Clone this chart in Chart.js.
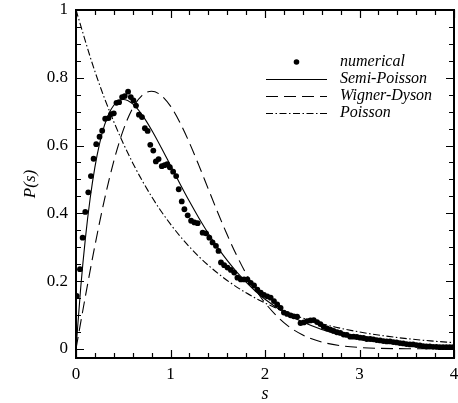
<!DOCTYPE html>
<html>
<head>
<meta charset="utf-8">
<script src="https://cdn.jsdelivr.net/npm/chart.js@4"></script>
<style>
  html, body { margin: 0; padding: 0; background: #fff; }
  #wrap { width: 458px; height: 403px; }
</style>
</head>
<body>
<div id="wrap"><canvas id="c" width="458" height="403"></canvas></div>
<script>
// ---- data ----
const numS = [0.007,0.042,0.070,0.098,0.130,0.158,0.186,0.214,0.249,0.277,0.309,0.344,0.372,0.400,0.428,0.456,0.488,0.516,0.551,0.580,0.608,0.635,0.666,0.698,0.729,0.758,0.786,0.818,0.845,0.874,0.908,0.937,0.965,0.993,1.028,1.060,1.087,1.119,1.147,1.182,1.218,1.253,1.287,1.340,1.376,1.411,1.445,1.481,1.508,1.534,1.568,1.603,1.639,1.674,1.708,1.744,1.779,1.814,1.849,1.884,1.919,1.955,1.989,2.024,2.060,2.095,2.129,2.165,2.200,2.235,2.271,2.305,2.340,2.376,2.410,2.445,2.481,2.516,2.551,2.586,2.621,2.656,2.692,2.726,2.761,2.797,2.832,2.866,2.902,2.937,2.972,3.007,3.042,3.077,3.113,3.147,3.182,3.218,3.253,3.288,3.323,3.358,3.393,3.428,3.463,3.498,3.534,3.568,3.603,3.639,3.674,3.708,3.744,3.779,3.814,3.849,3.884,3.919,3.955,3.990];
const numP = [0.156,0.235,0.328,0.404,0.462,0.510,0.561,0.604,0.626,0.644,0.679,0.681,0.693,0.695,0.726,0.728,0.743,0.746,0.759,0.743,0.733,0.718,0.691,0.684,0.651,0.643,0.602,0.585,0.553,0.560,0.539,0.542,0.545,0.536,0.523,0.510,0.471,0.435,0.412,0.394,0.378,0.373,0.371,0.343,0.341,0.328,0.314,0.304,0.289,0.255,0.247,0.240,0.233,0.225,0.210,0.205,0.205,0.205,0.195,0.187,0.175,0.166,0.159,0.155,0.151,0.141,0.131,0.121,0.107,0.103,0.099,0.096,0.095,0.076,0.078,0.082,0.084,0.085,0.079,0.073,0.065,0.060,0.057,0.053,0.049,0.047,0.042,0.041,0.036,0.036,0.035,0.033,0.032,0.029,0.029,0.028,0.026,0.025,0.023,0.022,0.022,0.020,0.019,0.017,0.016,0.014,0.013,0.013,0.011,0.010,0.008,0.007,0.007,0.006,0.006,0.005,0.005,0.005,0.005,0.005];

const semiS = [0,0.05,0.1,0.15,0.2,0.25,0.3,0.35,0.4,0.45,0.5,0.6,0.7,0.8,0.9,1.0,1.1,1.2,1.3,1.4,1.5,1.6,1.7,1.8,1.9,2.0,2.2,2.4,2.6,2.8,3.0,3.2,3.4,3.6,3.8,4.0];
const semiP = [0,0.181,0.3275,0.4445,0.5363,0.6065,0.6586,0.6952,0.7189,0.7318,0.7358,0.7229,0.6905,0.6460,0.5951,0.5413,0.4875,0.4354,0.3862,0.3405,0.2987,0.2609,0.2271,0.1968,0.1700,0.1465,0.1081,0.0790,0.0574,0.0414,0.0297,0.0213,0.0152,0.0108,0.0076,0.0054];

const wdS = [0,0.1,0.2,0.3,0.4,0.5,0.6,0.7,0.8,0.9,1.0,1.1,1.2,1.3,1.4,1.5,1.6,1.7,1.8,1.9,2.0,2.2,2.4,2.6,2.8,3.0,3.2,3.5,4.0];
const wdP = [0,0.1559,0.3044,0.4391,0.5541,0.6454,0.7104,0.7483,0.7602,0.7483,0.7162,0.6680,0.6083,0.5415,0.4717,0.4025,0.3365,0.2759,0.2219,0.1752,0.1358,0.0772,0.0409,0.0202,0.0093,0.0040,0.0016,0.0004,0.0000];

const poisS = [0,0.2,0.4,0.6,0.8,1.0,1.2,1.4,1.6,1.8,2.0,2.25,2.5,2.75,3.0,3.25,3.5,3.75,4.0];
const poisP = [1,0.8187,0.6703,0.5488,0.4493,0.3679,0.3012,0.2466,0.2019,0.1653,0.1353,0.1054,0.0821,0.0639,0.0498,0.0388,0.0302,0.0235,0.0183];

const xTicks = [0,1,2,3,4];
const yTicks = [0,0.2,0.4,0.6,0.8,1];
const seriesNames = ['numerical','Semi-Poisson','Wigner-Dyson','Poisson'];

const zip = (xs, ys) => xs.map((x, i) => ({x: x, y: ys[i]}));
const SERIF = '"Liberation Serif", "DejaVu Serif", serif';

const framePlugin = {
  id: 'frame',
  afterDraw(chart) {
    const ctx = chart.ctx, a = chart.chartArea;
    const xs = chart.scales.x, ys = chart.scales.y;
    ctx.save();
    ctx.strokeStyle = '#000';
    // ticks (inward, all four sides)
    ctx.lineWidth = 1.2;
    ctx.beginPath();
    for (let i = 0; i <= 20; i++) {
      const v = i * 0.2;
      const px = Math.round(xs.getPixelForValue(v)) + 0.5;
      const major = Math.abs(v - Math.round(v)) < 1e-6;
      const len = major ? 8 : 5;
      ctx.moveTo(px, a.bottom); ctx.lineTo(px, a.bottom - len);
      ctx.moveTo(px, a.top); ctx.lineTo(px, a.top + len);
    }
    for (let i = 0; i <= 20; i++) {
      const v = i * 0.05;
      const py = Math.round(ys.getPixelForValue(v)) + 0.5;
      const major = (i % 4) === 0;
      const len = major ? 8 : 5;
      ctx.moveTo(a.left, py); ctx.lineTo(a.left + len, py);
      ctx.moveTo(a.right, py); ctx.lineTo(a.right - len, py);
    }
    ctx.stroke();
    // frame
    ctx.lineWidth = 2;
    ctx.strokeRect(a.left, a.top, a.right - a.left, a.bottom - a.top);

    // legend
    const rows = [62, 79, 96, 113];
    const x0 = 266, x1 = 327, tx = 340;
    ctx.font = 'italic 16px ' + SERIF;
    ctx.fillStyle = '#000';
    ctx.textBaseline = 'middle';
    ctx.textAlign = 'left';
    chart.data.datasets.forEach((ds, i) => {
      const y = rows[i];
      if (i === 0) {
        ctx.beginPath();
        ctx.arc((x0 + x1) / 2, y, 2.8, 0, Math.PI * 2);
        ctx.fill();
      } else {
        ctx.beginPath();
        ctx.lineWidth = ds.borderWidth;
        ctx.setLineDash(ds.borderDash || []);
        ctx.moveTo(x0, y + 0.5); ctx.lineTo(x1, y + 0.5);
        ctx.stroke();
        ctx.setLineDash([]);
      }
      ctx.fillText(ds.label, tx, y);
    });
    ctx.restore();
  }
};

new Chart(document.getElementById('c'), {
  type: 'scatter',
  data: {
    datasets: [
      { label: seriesNames[0], data: zip(numS, numP), showLine: false,
        pointRadius: 2.9, pointBackgroundColor: '#000', pointBorderWidth: 0, borderColor: '#000', order: 0 },
      { label: seriesNames[1], type: 'line', data: zip(semiS, semiP), borderColor: '#000', borderWidth: 1.1,
        pointRadius: 0, cubicInterpolationMode: 'monotone', fill: false, order: 1 },
      { label: seriesNames[2], type: 'line', data: zip(wdS, wdP), borderColor: '#000', borderWidth: 1.1,
        borderDash: [12, 6], pointRadius: 0, cubicInterpolationMode: 'monotone', fill: false, order: 2 },
      { label: seriesNames[3], type: 'line', data: zip(poisS, poisP), borderColor: '#000', borderWidth: 1.1,
        borderDash: [7, 2.5, 1.5, 2.5], pointRadius: 0, cubicInterpolationMode: 'monotone', fill: false, order: 3 }
    ]
  },
  options: {
    responsive: false,
    animation: false,
    devicePixelRatio: 1,
    layout: { padding: { top: 10, right: 2, left: 0, bottom: 0 } },
    plugins: { legend: { display: false }, tooltip: { enabled: false } },
    scales: {
      x: {
        type: 'linear', min: 0, max: 4,
        grid: { display: false, drawTicks: false },
        border: { display: false },
        afterBuildTicks: s => { s.ticks = xTicks.map(v => ({ value: v })); },
        afterFit: s => { s.height = 45; s.paddingLeft = 0; s.paddingRight = 0; },
        ticks: { color: '#000', padding: 6, maxRotation: 0, font: { family: SERIF, size: 17 },
                 callback: v => String(v) },
        title: { display: true, text: 's', color: '#000', padding: { top: 0, bottom: -2 },
                 font: { family: SERIF, size: 18, style: 'italic' } }
      },
      y: {
        type: 'linear', min: -0.027, max: 1.0,
        grid: { display: false, drawTicks: false },
        border: { display: false },
        afterBuildTicks: s => { s.ticks = yTicks.map(v => ({ value: v })); },
        afterFit: s => { s.width = 76; s.paddingTop = 0; s.paddingBottom = 0; },
        ticks: { color: '#000', padding: 8, font: { family: SERIF, size: 17 },
                 callback: v => String(v) },
        title: { display: true, text: 'P(s)', color: '#000', padding: { top: 20, bottom: 0 },
                 font: { family: SERIF, size: 17, style: 'italic' } }
      }
    }
  },
  plugins: [framePlugin]
});
</script>
</body>
</html>
